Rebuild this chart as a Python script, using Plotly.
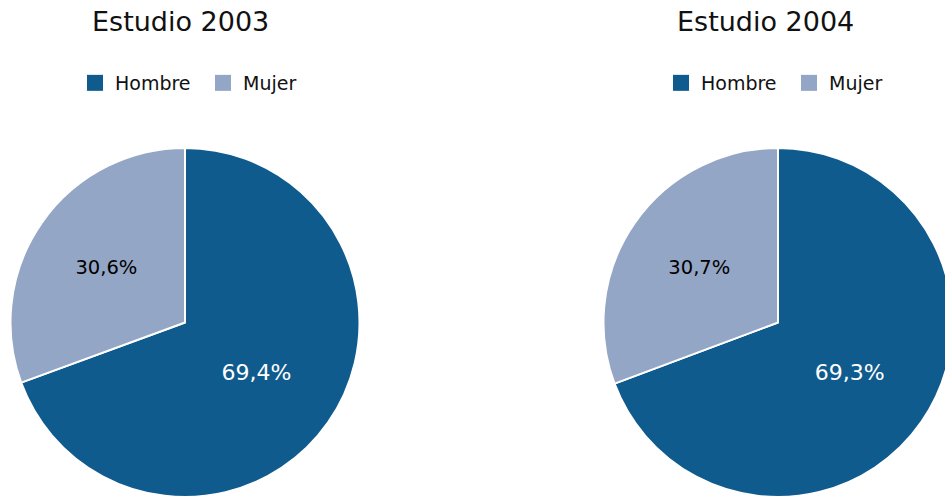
import plotly.graph_objects as go

labels = ["Hombre", "Mujer"]
values_2003 = [69.4, 30.6]
values_2004 = [69.3, 30.7]
text_2003 = ["69,4%", "30,6%"]
text_2004 = ["69,3%", "30,7%"]
titles = ["Estudio 2003", "Estudio 2004"]
colors = ["#105b8e", "#94a6c5"]

W, H = 960, 497
FONT = "DejaVu Sans, Verdana, sans-serif"

def px(v, total):
    return v / total

def pie(values, texts, cx):
    r = 174.5
    return go.Pie(
        labels=labels, values=values, text=texts,
        textinfo="text", textposition="inside",
        insidetextorientation="horizontal",
        textfont=dict(family=FONT, size=[22, 19.5], color=["white", "black"]),
        marker=dict(colors=colors, line=dict(color="white", width=2)),
        sort=False, direction="clockwise", rotation=0,
        domain=dict(x=[px(cx - r, W), px(cx + r, W)], y=[0, px(2 * r, H)]),
        hoverinfo="label+percent", showlegend=False,
    )

fig = go.Figure()
fig.add_trace(pie(values_2003, text_2003, 185))
fig.add_trace(pie(values_2004, text_2004, 778))

# legend entries (one legend per pie)
for leg in ["legend", "legend2"]:
    for lab, col in zip(labels, colors):
        fig.add_trace(go.Scatter(
            x=[None], y=[None], mode="markers", name=lab, legend=leg,
            marker=dict(symbol="square", size=16, color=col),
            showlegend=True, hoverinfo="skip",
        ))

legend_style = dict(orientation="h", font=dict(family=FONT, size=19, color="#111"),
                    yanchor="middle", y=1 - 83 / H, xanchor="left",
                    bgcolor="rgba(0,0,0,0)", traceorder="normal",
                    entrywidth=83, entrywidthmode="pixels")
fig.update_layout(
    width=W, height=H, margin=dict(l=0, r=0, t=0, b=0),
    paper_bgcolor="white", plot_bgcolor="white",
    font=dict(family=FONT),
    xaxis=dict(visible=False), yaxis=dict(visible=False),
    legend=dict(x=px(75, W), **legend_style),
    legend2=dict(x=px(661, W), **legend_style),
    annotations=[
        dict(text=titles[0], x=px(180, W), y=1 - 22 / H, xref="paper", yref="paper",
             showarrow=False, font=dict(family=FONT, size=27, color="#111"), xanchor="center", yanchor="middle"),
        dict(text=titles[1], x=px(765, W), y=1 - 22 / H, xref="paper", yref="paper",
             showarrow=False, font=dict(family=FONT, size=27, color="#111"), xanchor="center", yanchor="middle"),
    ],
)

fig.write_html("out.html", config={"displayModeBar": False},
               post_script="document.body.style.margin='0';document.body.style.overflow='hidden';document.documentElement.style.overflow='hidden';")
